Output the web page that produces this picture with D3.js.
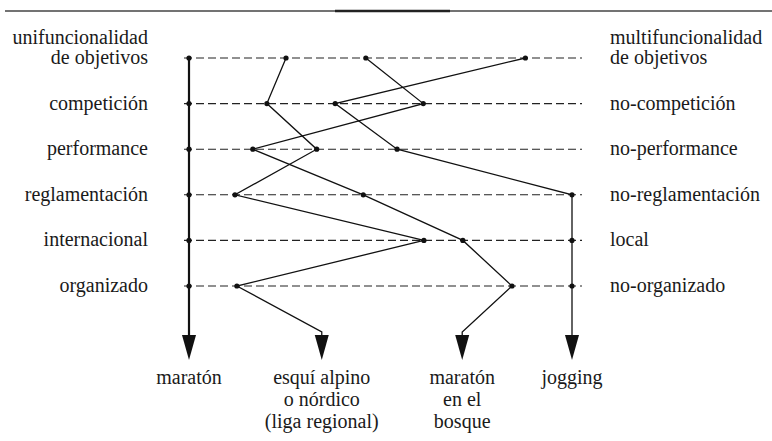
<!DOCTYPE html>
<html lang="es">
<head>
<meta charset="utf-8">
<title>Perfiles de modalidades deportivas</title>
<style>
body{
  margin: 0;
  background: #fff;
}
svg text{
  font-family: 'Liberation Serif', 'DejaVu Serif', serif;
  font-size: 20px;
  fill: #1a1a1a;
}
.guide{
  fill: none;
  stroke: #222;
  stroke-width: 1.1;
  stroke-dasharray: 8 4;
}
.profile{
  fill: none;
  stroke: #111;
  stroke-width: 1.3;
}
</style>
<script src="https://d3js.org/d3.v7.min.js"></script>
</head>
<body>
<div id="chart"></div>
<script>

/* polos de cada dimension */
var leftLabels = ['de objetivos', 'competición', 'performance', 'reglamentación', 'internacional', 'organizado'];
var rightLabels = ['de objetivos', 'no-competición', 'no-performance', 'no-reglamentación', 'local', 'no-organizado'];
var leftHeader = 'unifuncionalidad';
var rightHeader = 'multifuncionalidad';

/* modalidades (nombre en lineas) */
var sportNames = [
  ['maratón'],
  ['esquí alpino', 'o nórdico', '(liga regional)'],
  ['maratón', 'en el', 'bosque'],
  ['jogging']
];

/* posicion en escala 1 (polo izq.) a 7 (polo der.) por dimension, y posicion final de la flecha */
var maratonValues = [1, 1, 1, 1, 1, 1];
var esquiValues = [2.52, 2.22, 3.0, 1.72, 4.68, 1.75];
var bosqueValues = [3.77, 4.67, 2.0, 3.73, 5.29, 6.06];
var joggingValues = [6.27, 3.29, 4.26, 7, 7, 7];
var arrowValues = [1, 3.08, 5.28, 7];

var profiles = [maratonValues, esquiValues, bosqueValues, joggingValues];

var width = 772, height = 441;

var x = d3.scaleLinear().domain([1, 7]).range([189, 572]);
var y = d3.scalePoint().domain(d3.range(leftLabels.length)).range([58, 286]);

var bendY = 332, arrowTop = 337, arrowTip = 360;

var svg = d3.select('#chart')
  .append('svg')
  .attr('width', width)
  .attr('height', height);

/* linea superior */
svg.append('line')
  .attr('x1', 5).attr('x2', width)
  .attr('y1', 11).attr('y2', 11)
  .style('stroke', '#444')
  .style('stroke-width', 1.4);
svg.append('line')
  .attr('x1', 335).attr('x2', 450)
  .attr('y1', 11).attr('y2', 11)
  .style('stroke', '#222')
  .style('stroke-width', 2.6);

/* lineas guia */
svg.selectAll('.guide')
  .data(leftLabels)
  .enter()
  .append('line')
  .attr('class', 'guide')
  .attr('x1', x(1) - 5)
  .attr('x2', x(7) + 10)
  .attr('y1', function(d, i) { return y(i); })
  .attr('y2', function(d, i) { return y(i); });

/* etiquetas izquierda */
svg.append('text')
  .attr('x', 148).attr('y', y(0) - 14)
  .attr('text-anchor', 'end')
  .attr('font-family', 'Liberation Serif')
  .text(leftHeader);
svg.selectAll('.left')
  .data(leftLabels)
  .enter()
  .append('text')
  .attr('class', 'left')
  .attr('x', 148)
  .attr('y', function(d, i) { return y(i) + 6; })
  .attr('text-anchor', 'end')
  .text(function(d) { return d; });

/* etiquetas derecha */
svg.append('text')
  .attr('x', 610).attr('y', y(0) - 14)
  .text(rightHeader);
svg.selectAll('.right')
  .data(rightLabels)
  .enter()
  .append('text')
  .attr('class', 'right')
  .attr('x', 610)
  .attr('y', function(d, i) { return y(i) + 6; })
  .text(function(d) { return d; });

/* perfiles */
var line = d3.line();
profiles.forEach(function(vals, k) {
  var pts = vals.map(function(v, i) { return [x(v), y(i)]; });
  pts.push([x(arrowValues[k]), bendY]);
  pts.push([x(arrowValues[k]), arrowTop]);

  svg.append('path')
    .attr('class', 'profile')
    .attr('d', line(pts))
    .style('stroke-width', k === 0 ? 2.2 : 1.3);

  svg.selectAll('.pt' + k)
    .data(vals)
    .enter()
    .append('circle')
    .attr('class', 'pt' + k)
    .attr('cx', function(d) { return x(d); })
    .attr('cy', function(d, i) { return y(i); })
    .attr('r', 2.6)
    .style('fill', '#111');

  /* punta de flecha */
  var ax = x(arrowValues[k]);
  svg.append('path')
    .attr('d', 'M' + (ax - 7) + ',' + (arrowTop - 2) + 'L' + (ax + 7) + ',' + (arrowTop - 2) +
               'L' + ax + ',' + arrowTip + 'Z')
    .style('fill', '#111');

  /* nombre */
  svg.append('text')
    .attr('x', ax)
    .attr('y', 384)
    .attr('text-anchor', 'middle')
    .selectAll('tspan')
    .data(sportNames[k])
    .enter()
    .append('tspan')
    .attr('x', ax)
    .attr('dy', function(d, i) { return i === 0 ? 0 : 22; })
    .text(function(d) { return d; });
});

</script>
</body>
</html>
